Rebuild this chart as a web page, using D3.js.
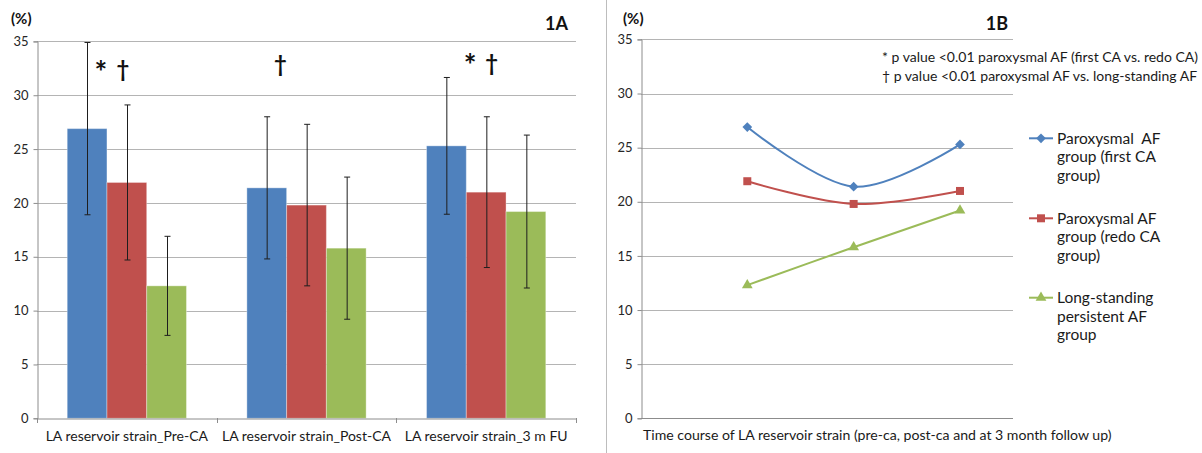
<!DOCTYPE html>
<html>
<head>
<meta charset="utf-8">
<script src="https://cdn.jsdelivr.net/npm/d3@7/dist/d3.min.js"></script>
<style>
  html, body { margin: 0; padding: 0; background: #fff; }
  svg { display: block; font-family: Lato, "Open Sans", sans-serif; }
</style>
</head>
<body>
<svg id="chart" width="1202" height="453"></svg>
<script>
// LA reservoir strain (%) by group, mean and SD at each time point
const categories = ["LA reservoir strain_Pre-CA", "LA reservoir strain_Post-CA", "LA reservoir strain_3 m FU"];
const timepoints = ["pre-ca", "post-ca", "3 m FU"];
const seriesKeys = ["firstCA", "redoCA", "longStanding"];
const firstCA = [26.9, 21.4, 25.3];
const firstCASD = [8.0, 6.6, 6.35];
const redoCA = [21.9, 19.8, 21.0];
const redoCASD = [7.2, 7.5, 7.0];
const longStanding = [12.3, 15.8, 19.2];
const longStandingSD = [4.6, 6.6, 7.1];
const yTicks = [0, 5, 10, 15, 20, 25, 30, 35];
const legendLabels = [
  ["Paroxysmal  AF", "group (first CA", "group)"],
  ["Paroxysmal AF", "group (redo CA", "group)"],
  ["Long-standing", "persistent AF", "group"]
];
const significance = [["*", "†"], ["†"], ["*", "†"]];
const footnotes = [
  "* p value <0.01 paroxysmal AF (first CA vs. redo CA)",
  "† p value <0.01 paroxysmal AF vs. long-standing AF"
];
const xTitleB = "Time course of LA reservoir strain (pre-ca, post-ca and at 3 month follow up)";

const colors = { firstCA: "#4F81BD", redoCA: "#C0504D", longStanding: "#9BBB59" };
const means = { firstCA, redoCA, longStanding };
const sds = { firstCA: firstCASD, redoCA: redoCASD, longStanding: longStandingSD };

const svg = d3.select("#chart");
svg.append("rect").attr("width", 1202).attr("height", 453).attr("fill", "#fff");

const gridColor = "#b4b4b4";
const axisColor = "#8c8c8c";
const textColor = "#262626";

// ---------- Panel 1A: grouped bars with SD error bars ----------
const A = { left: 37, right: 576, top: 41.4, bottom: 418.3 };
const yA = d3.scaleLinear().domain([0, 35]).range([A.bottom, A.top]);
const x0 = d3.scaleBand().domain(categories).range([A.left, A.right]).paddingInner(0).paddingOuter(0);
const x1 = d3.scaleBand().domain(seriesKeys).range([0, x0.bandwidth()]).paddingInner(0).paddingOuter(0.76);

const gA = svg.append("g");

gA.append("g").selectAll("line").data(yTicks.filter(d => d > 0)).join("line")
  .attr("x1", A.left).attr("x2", A.right)
  .attr("y1", d => Math.round(yA(d)) + 0.5).attr("y2", d => Math.round(yA(d)) + 0.5)
  .attr("stroke", gridColor).attr("stroke-width", 1);

const yAxisA = d3.axisLeft(yA).tickValues(yTicks).tickSize(4).tickPadding(5);
const gyA = gA.append("g").attr("transform", `translate(${A.left + 0.5},0)`).call(yAxisA);
gyA.select(".domain").attr("stroke", axisColor);
gyA.selectAll(".tick line").attr("stroke", axisColor);
gyA.selectAll(".tick text").attr("fill", textColor).style("font-size", "13px").style("font-family", "Lato, sans-serif");

const groups = gA.append("g").selectAll("g").data(categories).join("g")
  .attr("transform", d => `translate(${x0(d)},0)`);

groups.selectAll("rect").data((c, i) => seriesKeys.map(k => ({ key: k, v: means[k][i], sd: sds[k][i] }))).join("rect")
  .attr("x", d => x1(d.key)).attr("width", x1.bandwidth())
  .attr("y", d => yA(d.v)).attr("height", d => yA(0) - yA(d.v))
  .attr("fill", d => colors[d.key])
  .attr("stroke", "rgba(255,255,255,0.35)").attr("stroke-width", 1);

const xAxisA = d3.axisBottom(x0).tickSize(0).tickPadding(13);
const gxA = gA.append("g").attr("transform", `translate(0,${Math.round(A.bottom) + 0.5})`).call(xAxisA);
gxA.select(".domain").attr("stroke", axisColor);
gxA.selectAll(".tick text").attr("fill", "#1a1a1a").style("font-size", "14px").style("font-family", "Lato, sans-serif");
// category boundary ticks
gA.append("g").selectAll("line").data([...categories.map(c => x0(c)), A.right]).join("line")
  .attr("x1", d => Math.round(d) + 0.5).attr("x2", d => Math.round(d) + 0.5)
  .attr("y1", Math.round(A.bottom)).attr("y2", Math.round(A.bottom) + 5)
  .attr("stroke", axisColor);

// error bars
const eb = groups.selectAll("g.err").data((c, i) => seriesKeys.map(k => ({ key: k, v: means[k][i], sd: sds[k][i] }))).join("g")
  .attr("class", "err")
  .attr("transform", d => `translate(${Math.round(x1(d.key) + x1.bandwidth() / 2) + 0.5},0)`);
eb.append("line").attr("y1", d => yA(Math.min(35, d.v + d.sd))).attr("y2", d => yA(d.v - d.sd))
  .attr("stroke", "#1e1e1e").attr("stroke-width", 1);
eb.filter(d => d.v + d.sd <= 35).append("line").attr("x1", -3).attr("x2", 3)
  .attr("y1", d => yA(d.v + d.sd)).attr("y2", d => yA(d.v + d.sd)).attr("stroke", "#1e1e1e");
eb.append("line").attr("x1", -3).attr("x2", 3)
  .attr("y1", d => yA(d.v - d.sd)).attr("y2", d => yA(d.v - d.sd)).attr("stroke", "#1e1e1e");

// significance markers above each group: [dx from group centre, glyph centre y]
const markLayout = [[[-26, 67], [-4, 70]], [[-26, 65]], [[-16, 60], [5.5, 63.5]]];
categories.forEach((c, i) => {
  const cx = x0(c) + x0.bandwidth() / 2;
  significance[i].forEach((m, j) => {
    const [dx, cy] = markLayout[i][j];
    const star = m === "*";
    gA.append("text").attr("x", cx + dx)
      .attr("y", star ? cy + 16 : cy + 7)
      .attr("text-anchor", "middle")
      .attr("fill", "#111").style("font-family", "Lato, sans-serif")
      .style("font-size", star ? "30px" : "22px")
      .style("font-weight", "700")
      .text(m);
  });
});

gA.append("text").attr("x", 11).attr("y", 24).attr("fill", "#111")
  .style("font-size", "15px").style("font-weight", "700").text("(%)");
gA.append("text").attr("x", 568).attr("y", 30).attr("text-anchor", "end").attr("fill", "#111")
  .style("font-size", "18px").style("font-weight", "700").text("1A");

// panel divider
svg.append("line").attr("x1", 606.5).attr("x2", 606.5).attr("y1", 0).attr("y2", 453)
  .attr("stroke", "#bdbdbd").attr("stroke-width", 1);

// ---------- Panel 1B: time course lines ----------
const B = { left: 641, right: 1013, top: 39.4, bottom: 418.3 };
const yB = d3.scaleLinear().domain([0, 35]).range([B.bottom, B.top]);
const xB = d3.scalePoint().domain(timepoints).range([747.3, 960]);

const gB = svg.append("g");
gB.append("g").selectAll("line").data(yTicks.filter(d => d > 0)).join("line")
  .attr("x1", B.left).attr("x2", B.right)
  .attr("y1", d => Math.round(yB(d)) + 0.5).attr("y2", d => Math.round(yB(d)) + 0.5)
  .attr("stroke", gridColor);
gB.append("line").attr("x1", B.left).attr("x2", B.right)
  .attr("y1", Math.round(B.bottom) + 0.5).attr("y2", Math.round(B.bottom) + 0.5).attr("stroke", axisColor);

const gyB = gB.append("g").attr("transform", `translate(${B.left + 0.5},0)`)
  .call(d3.axisLeft(yB).tickValues(yTicks).tickSize(4).tickPadding(5));
gyB.select(".domain").attr("stroke", axisColor);
gyB.selectAll(".tick line").attr("stroke", axisColor);
gyB.selectAll(".tick text").attr("fill", textColor).style("font-size", "13px").style("font-family", "Lato, sans-serif");

gB.append("text").attr("x", 643).attr("y", 440).attr("fill", "#1a1a1a")
  .style("font-size", "14.1px").text(xTitleB);

const line = d3.line().x((d, i) => xB(timepoints[i])).y(d => yB(d)).curve(d3.curveCardinal.tension(0));

const markerPath = {
  firstCA: d3.symbol().type(d3.symbolDiamond2).size(60),
  redoCA: d3.symbol().type(d3.symbolSquare).size(64),
  longStanding: d3.symbol().type(d3.symbolTriangle).size(50)
};

seriesKeys.forEach(k => {
  gB.append("path").datum(means[k]).attr("d", line)
    .attr("fill", "none").attr("stroke", colors[k]).attr("stroke-width", 2);
  gB.append("g").selectAll("path").data(means[k]).join("path")
    .attr("transform", (d, i) => `translate(${xB(timepoints[i])},${yB(d)})`)
    .attr("d", markerPath[k]()).attr("fill", colors[k]);
});

gB.append("text").attr("x", 623).attr("y", 24).attr("fill", "#111")
  .style("font-size", "15px").style("font-weight", "700").text("(%)");
gB.append("text").attr("x", 1008).attr("y", 30).attr("text-anchor", "end").attr("fill", "#111")
  .style("font-size", "18px").style("font-weight", "700").text("1B");

footnotes.forEach((t, i) => {
  gB.append("text").attr("x", 882).attr("y", 62 + i * 18.7).attr("fill", "#1a1a1a")
    .style("font-size", "14px").text(t);
});

// legend
const legendTop = [138.3, 218.3, 297.7];
seriesKeys.forEach((k, i) => {
  const lg = gB.append("g").attr("transform", `translate(0,${legendTop[i]})`);
  lg.append("line").attr("x1", 1029).attr("x2", 1053).attr("y1", 0).attr("y2", 0)
    .attr("stroke", colors[k]).attr("stroke-width", 2);
  lg.append("path").attr("transform", "translate(1041,0)").attr("d", markerPath[k]()).attr("fill", colors[k]);
  legendLabels[i].forEach((t, j) => {
    lg.append("text").attr("x", 1057).attr("y", j * 18.5).attr("dy", "0.35em").attr("fill", "#1a1a1a")
      .style("font-size", "15.5px").style("white-space", "pre").text(t);
  });
});
</script>
</body>
</html>
